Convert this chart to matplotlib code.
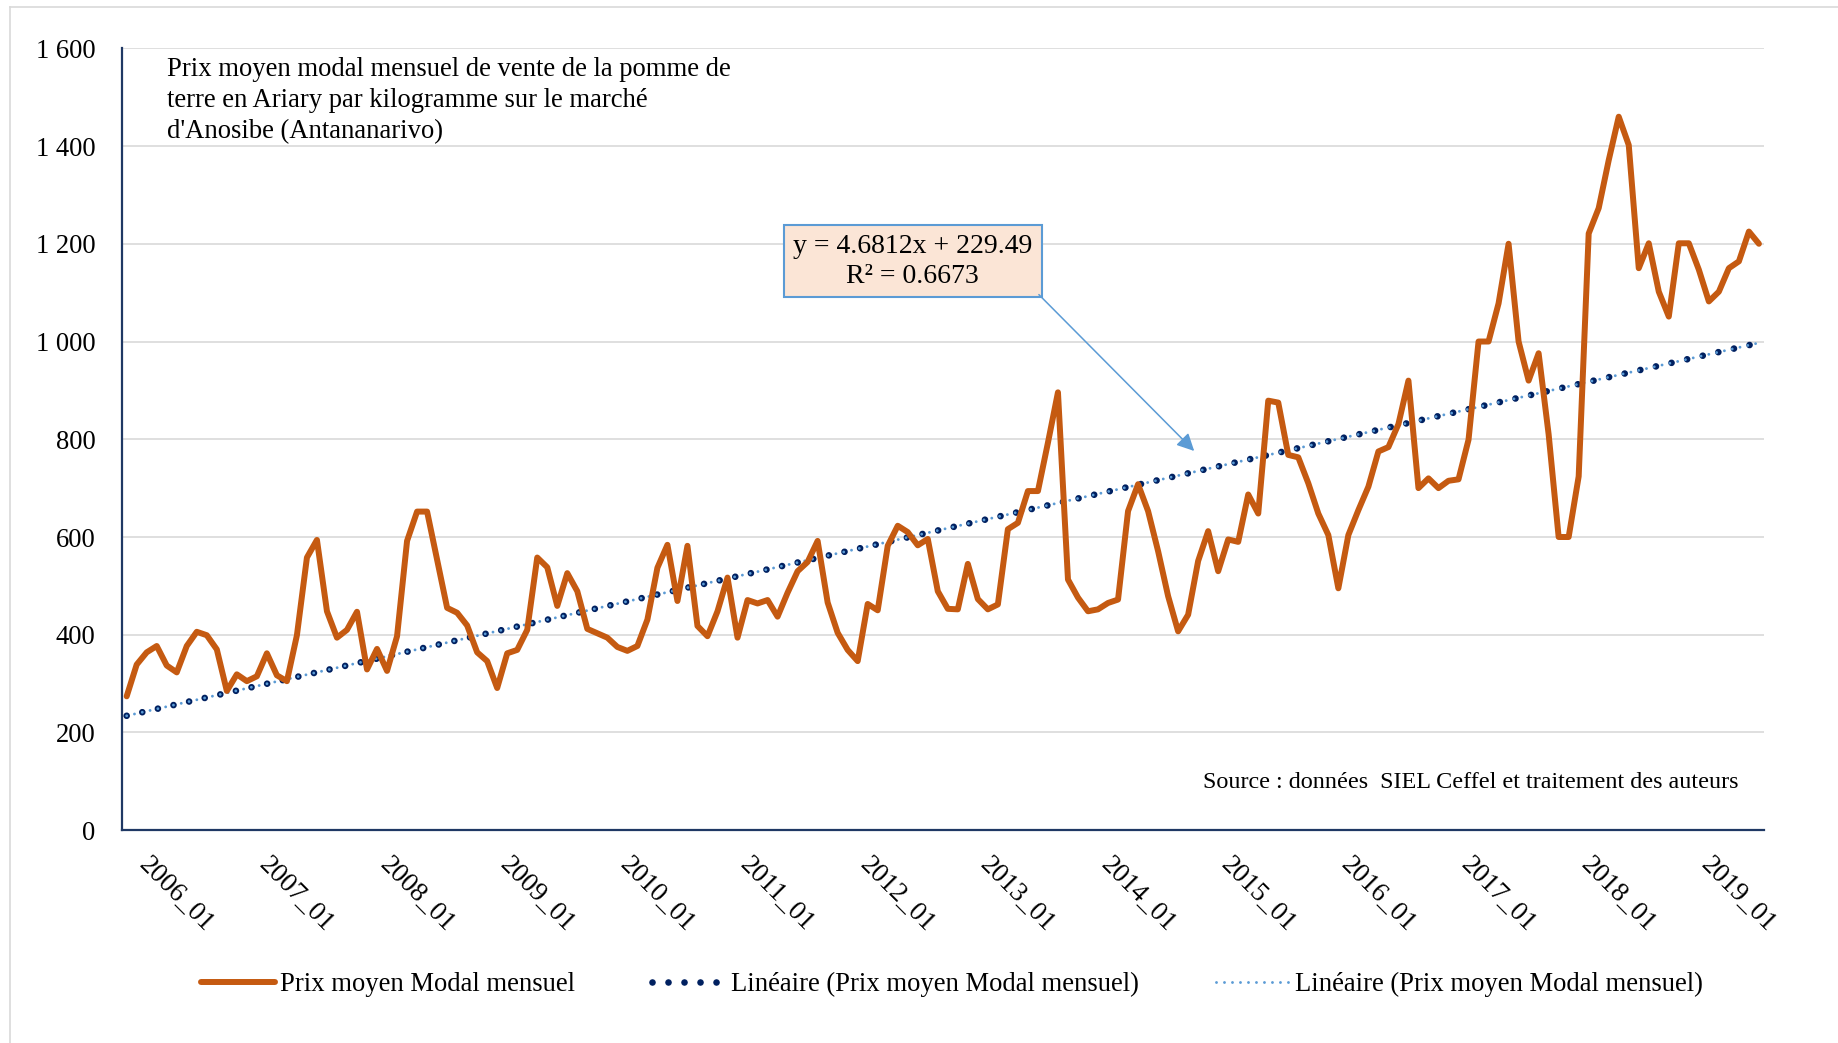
import numpy as np
import matplotlib
matplotlib.use('Agg')
import matplotlib.pyplot as plt
from matplotlib.patches import Rectangle
from matplotlib.lines import Line2D
from matplotlib.transforms import ScaledTranslation

plt.rcParams['font.family'] = ['Liberation Serif', 'DejaVu Serif']

# prix moyen modal mensuel (Ariary/kg), 2006_01 -> 2019_08
prix = [
    274, 339, 364, 377, 337, 323, 377, 406, 399, 370, 285, 319,   # 2006
    305, 315, 362, 317, 305, 399, 558, 594, 448, 394, 410, 447,   # 2007
    329, 371, 326, 397, 592, 652, 652, 554, 455, 445, 419, 364,   # 2008
    346, 291, 362, 369, 410, 558, 538, 459, 526, 489, 412, 403,   # 2009
    394, 375, 367, 377, 431, 537, 584, 469, 582, 418, 397, 448,   # 2010
    517, 394, 471, 464, 471, 437, 486, 530, 549, 592, 466, 404,   # 2011
    369, 346, 463, 450, 582, 623, 610, 583, 596, 489, 453, 452,   # 2012
    545, 473, 452, 462, 616, 629, 694, 694, 793, 896, 513, 476,   # 2013
    448, 452, 465, 472, 653, 708, 653, 571, 479, 407, 441, 551,   # 2014
    612, 530, 595, 590, 687, 648, 879, 875, 768, 763, 710, 648,   # 2015
    604, 495, 604, 655, 703, 775, 784, 831, 920, 700, 720, 700,   # 2016
    715, 718, 799, 1000, 1000, 1078, 1200, 1000, 920, 976, 810, 600,  # 2017
    600, 724, 1221, 1273, 1371, 1460, 1402, 1150, 1201, 1102, 1051, 1201,  # 2018
    1201, 1147, 1082, 1102, 1150, 1164, 1225, 1200,               # 2019
]

xtick_labels = ['2006_01', '2007_01', '2008_01', '2009_01', '2010_01', '2011_01', '2012_01',
                '2013_01', '2014_01', '2015_01', '2016_01', '2017_01', '2018_01', '2019_01']
yticks = [0, 200, 400, 600, 800, 1000, 1200, 1400, 1600]
ytick_labels = ['0', '200', '400', '600', '800', '1 000', '1 200', '1 400', '1 600']

# courbe de tendance linéaire (Excel)
pente = 4.6812
ordonnee = 229.49
r2 = 0.6673

x = np.arange(len(prix))
tendance = ordonnee + pente * (x + 1)

fig = plt.figure(figsize=(18.38, 10.43), dpi=100)
ax = fig.add_axes([0.0662, 0.2040, 0.8935, 0.7497])

orange = '#C55A11'
navy = '#002060'
bleu = '#5B9BD5'

ax.plot(x, prix, color=orange, lw=4.3, solid_joinstyle='round', solid_capstyle='round',
        label='Prix moyen Modal mensuel', zorder=4)
ax.plot(x, tendance, color=navy, lw=4.8, linestyle=(0, (0.001, 2.4)), dash_capstyle='round',
        label='Linéaire (Prix moyen Modal mensuel)', zorder=3)
ax.plot(x, tendance, color=bleu, lw=2.1, linestyle=(0, (0.001, 2.74)), dash_capstyle='round',
        label='Linéaire (Prix moyen Modal mensuel)', zorder=3.5)

ax.set_xlim(-0.5, len(prix) - 0.5)
ax.set_ylim(0, 1600)
ax.set_yticks(yticks)
ax.set_yticklabels(ytick_labels)
ax.yaxis.grid(True, color='#D9D9D9', lw=1.2)
ax.set_axisbelow(True)

ax.set_xticks(np.arange(0, len(prix), 12)[:len(xtick_labels)])
ax.set_xticklabels(xtick_labels, rotation=-45, ha='left', va='top', rotation_mode='anchor',
                   fontsize=19.5)

ax.tick_params(axis='both', length=0)
ax.tick_params(axis='y', pad=19, labelsize=19.2)
ax.tick_params(axis='x', pad=16)

# décalage des étiquettes de dates (après tick_params, qui remet les transforms à zéro)
shift = ScaledTranslation(0.25, 0, fig.dpi_scale_trans)
for lab in ax.get_xticklabels():
    lab.set_transform(lab.get_transform() + shift)

for s in ['top', 'right']:
    ax.spines[s].set_visible(False)
for s in ['left', 'bottom']:
    ax.spines[s].set_color('#1F3864')
    ax.spines[s].set_linewidth(1.6)

# titre dans la zone de tracé
ax.text(4.0, 1583, "Prix moyen modal mensuel de vente de la pomme de\n"
        "terre en Ariary par kilogramme sur le marché\n"
        "d'Anosibe (Antananarivo)", fontsize=19.2, ha='left', va='top', linespacing=1.33)

# équation de la tendance
ax.add_patch(Rectangle((65.6, 1090.5), 25.8, 147.5, facecolor='#FBE5D6', edgecolor=bleu,
                       lw=1.5, zorder=5))
ax.text(78.5, 1164, 'y = %.4fx + %.2f\nR² = %.4f' % (pente, ordonnee, r2), fontsize=20,
        ha='center', va='center', linespacing=1.25, zorder=6)
ax.annotate('', xy=(106.8, 772), xytext=(90.9, 1100),
            arrowprops=dict(arrowstyle='-|>', color=bleu, lw=1.1, mutation_scale=26), zorder=6)

ax.text(161, 97, 'Source : données  SIEL Ceffel et traitement des auteurs', fontsize=17.4,
        ha='right', va='center')

fig.legend(loc='center', bbox_to_anchor=(0.518, 0.056), ncol=3, frameon=False, fontsize=19.2,
           handlelength=2.75, handletextpad=0.2, columnspacing=2.9)

# bordure du graphique
fig.add_artist(Line2D([10 / 1838, 10 / 1838], [0, 1 - 7 / 1043], color='#D9D9D9', lw=1.2))
fig.add_artist(Line2D([10 / 1838, 1], [1 - 7 / 1043, 1 - 7 / 1043], color='#D9D9D9', lw=1.2))

fig.savefig('out.png', dpi=100)
